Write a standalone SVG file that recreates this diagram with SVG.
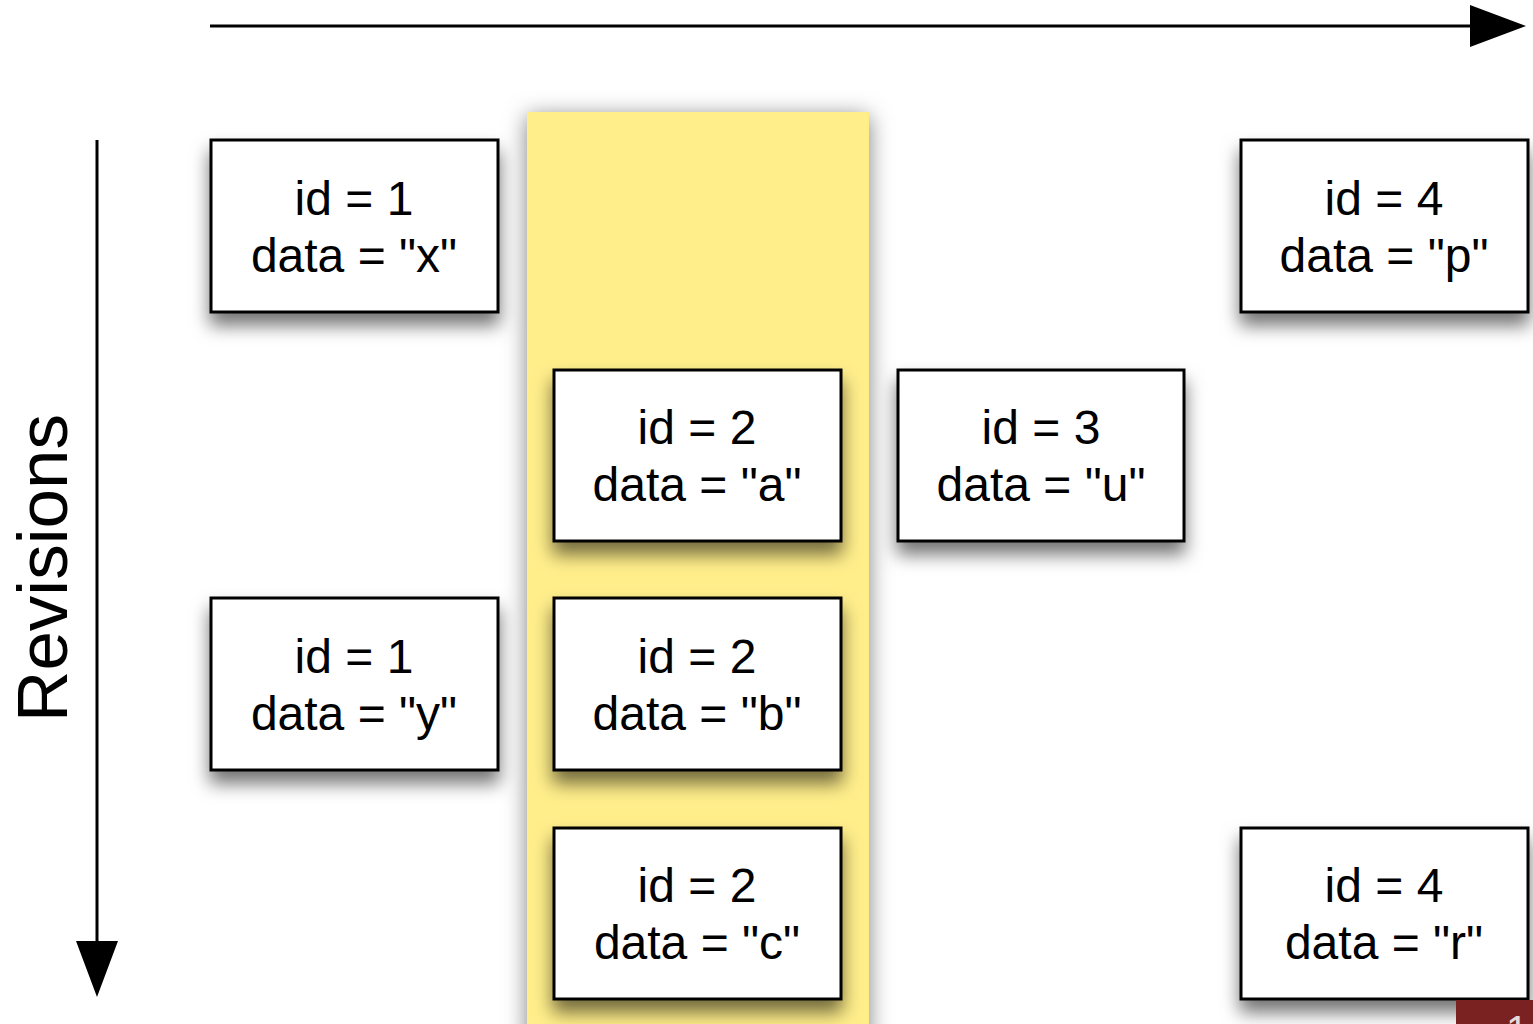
<svg xmlns="http://www.w3.org/2000/svg" width="1533" height="1024" viewBox="0 0 1533 1024">
  <defs>
    <filter id="boxShadow" x="-20%" y="-20%" width="140%" height="170%">
      <feDropShadow dx="0" dy="12" stdDeviation="9" flood-color="#000" flood-opacity="0.55"/>
    </filter>
    <filter id="colShadow" x="-20%" y="-5%" width="140%" height="110%">
      <feDropShadow dx="0" dy="4" stdDeviation="11" flood-color="#000" flood-opacity="0.5"/>
    </filter>
    <marker id="head" markerUnits="userSpaceOnUse" markerWidth="56" markerHeight="42" refX="0" refY="21" orient="auto">
      <path d="M0,0 L56,21 L0,42 Z" fill="#000"/>
    </marker>
    <style>
      .box rect { fill: #fff; stroke: #000; stroke-width: 3; filter: url(#boxShadow); }
      .box text { font-family: "Liberation Sans", Arial, sans-serif; font-size: 48px; fill: #000; text-anchor: middle; }
      .axis { stroke: #000; stroke-width: 3; fill: none; }
      .label { font-family: "Liberation Sans", Arial, sans-serif; font-size: 71px; fill: #000; text-anchor: middle; }
    </style>
  </defs>

  <rect x="0" y="0" width="1533" height="1024" fill="#fff"/>

  <!-- highlighted column for id = 2 -->
  <rect id="column" x="527" y="112" width="342" height="930" fill="#FFEE8A" filter="url(#colShadow)"/>

  <!-- axes -->
  <g id="connectors">
    <line class="axis" x1="210" y1="26" x2="1470" y2="26" marker-end="url(#head)"/>
    <line class="axis" x1="97" y1="140" x2="97" y2="941" marker-end="url(#head)"/>
  </g>

  <text class="label" transform="translate(67,568) rotate(-90)">Revisions</text>

  <g id="n1x" class="box">
    <rect x="211" y="140" width="287" height="172"/>
    <text x="354" y="215">id = 1</text>
    <text x="354" y="272">data = "x"</text>
  </g>
  <g id="n4p" class="box">
    <rect x="1241" y="140" width="287" height="172"/>
    <text x="1384" y="215">id = 4</text>
    <text x="1384" y="272">data = "p"</text>
  </g>
  <g id="n2a" class="box">
    <rect x="554" y="370" width="287" height="171"/>
    <text x="697" y="444">id = 2</text>
    <text x="697" y="501">data = "a"</text>
  </g>
  <g id="n3u" class="box">
    <rect x="898" y="370" width="286" height="171"/>
    <text x="1041" y="444">id = 3</text>
    <text x="1041" y="501">data = "u"</text>
  </g>
  <g id="n1y" class="box">
    <rect x="211" y="598" width="287" height="172"/>
    <text x="354" y="673">id = 1</text>
    <text x="354" y="730">data = "y"</text>
  </g>
  <g id="n2b" class="box">
    <rect x="554" y="598" width="287" height="172"/>
    <text x="697" y="673">id = 2</text>
    <text x="697" y="730">data = "b"</text>
  </g>
  <g id="n2c" class="box">
    <rect x="554" y="828" width="287" height="171"/>
    <text x="697" y="902">id = 2</text>
    <text x="697" y="959">data = "c"</text>
  </g>
  <g id="n4r" class="box">
    <rect x="1241" y="828" width="287" height="171"/>
    <text x="1384" y="902">id = 4</text>
    <text x="1384" y="959">data = "r"</text>
  </g>

  <!-- page tab in the corner -->
  <rect x="1456" y="1000" width="77" height="24" fill="#7A2222"/>
  <text x="1506" y="1044" font-family="Liberation Sans, Arial, sans-serif" font-size="40" fill="#e8dada">1</text>
</svg>
